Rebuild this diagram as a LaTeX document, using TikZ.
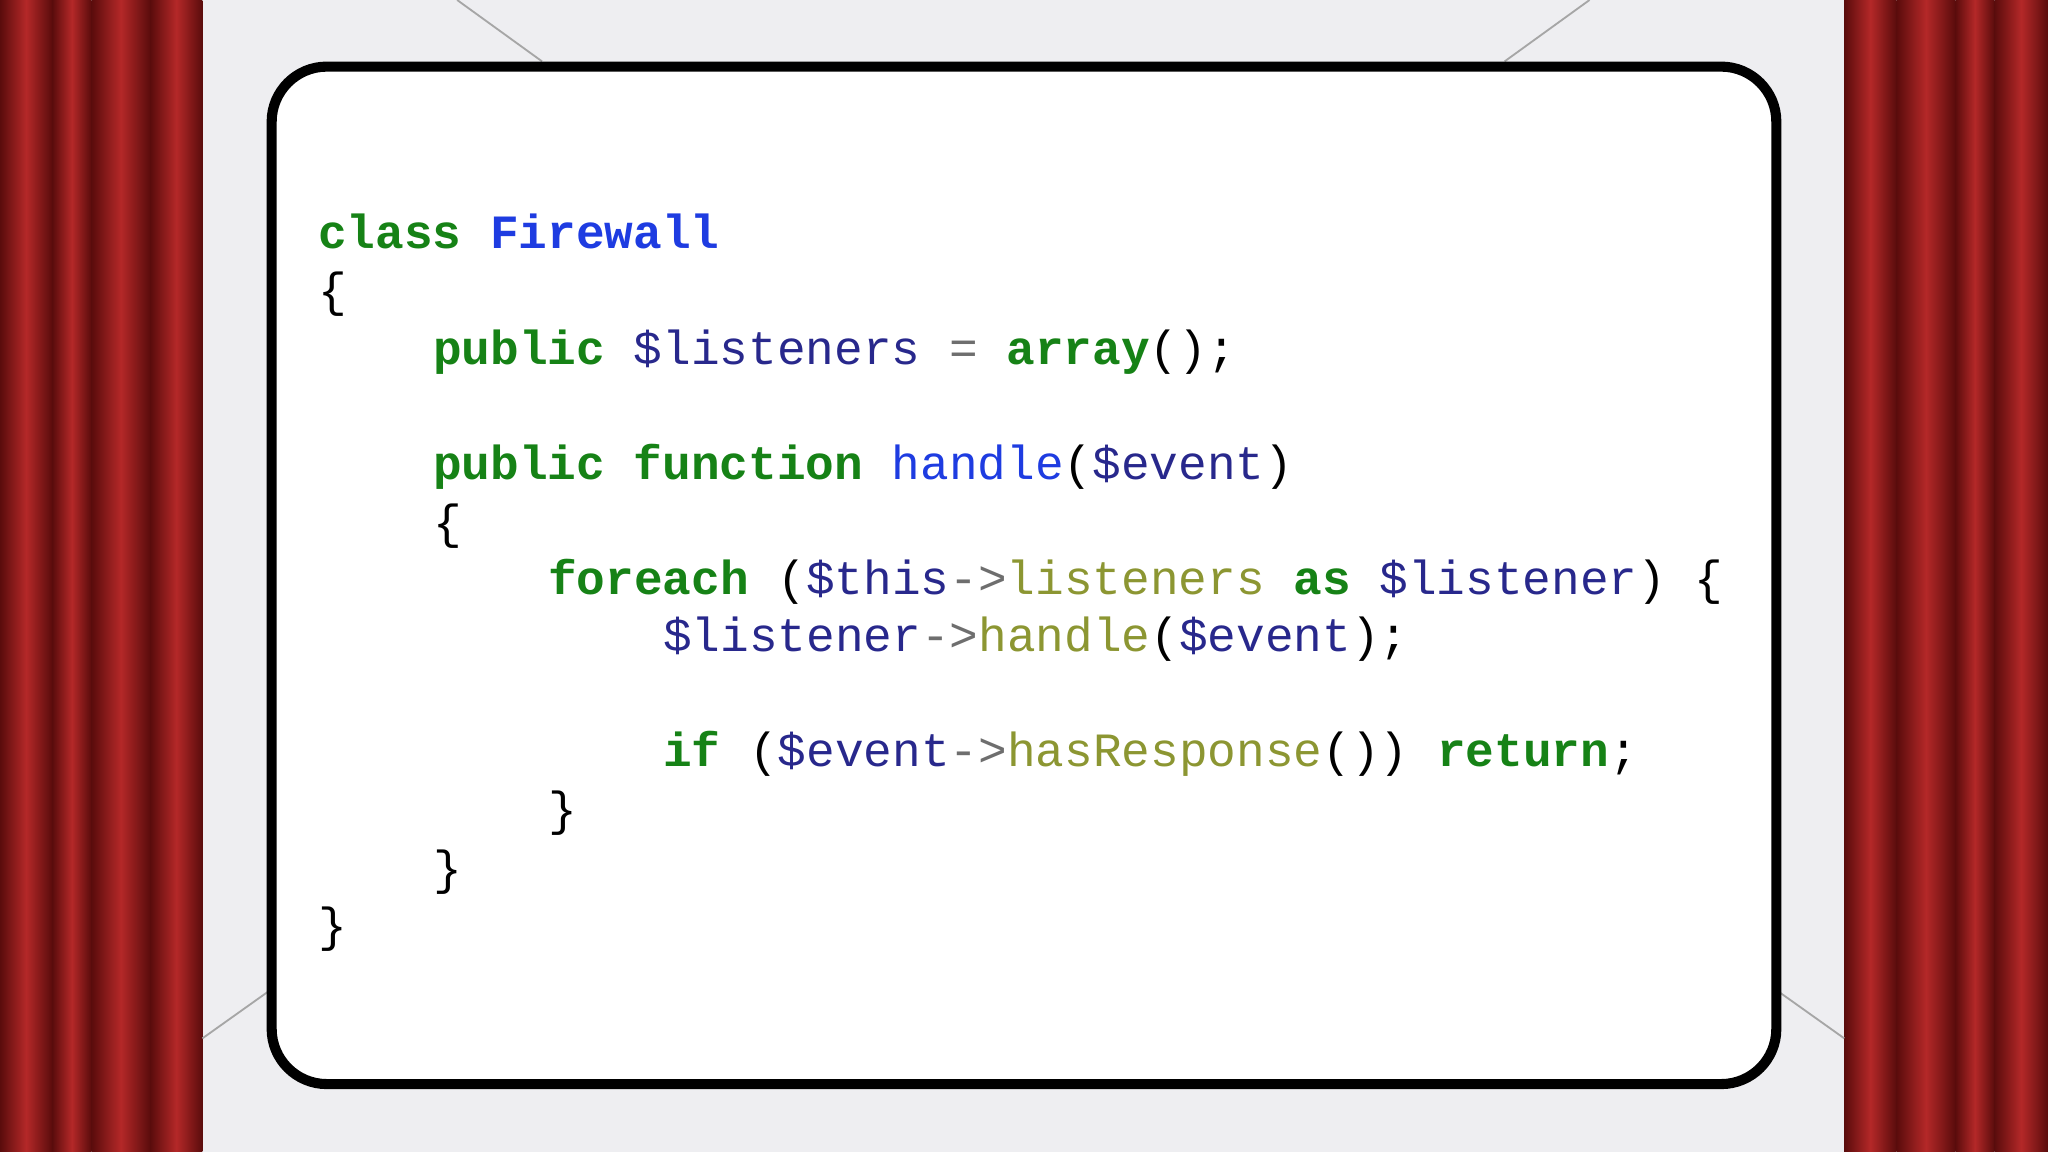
\documentclass[tikz,border=0pt]{standalone}
\usepackage{fontspec}
\newfontfamily\code{Liberation Mono}
\definecolor{kwc}{RGB}{22,130,22}
\definecolor{cnc}{RGB}{30,60,225}
\definecolor{vrc}{RGB}{40,40,140}
\definecolor{fnc}{RGB}{140,150,50}
\definecolor{arc}{RGB}{110,110,110}
\definecolor{bgc}{RGB}{238,238,241}
\definecolor{curtd}{RGB}{90,12,12}
\definecolor{curtl}{RGB}{180,40,40}
\newcommand{\kw}[1]{{\bfseries\color{kwc}#1}}
\newcommand{\cn}[1]{{\bfseries\color{cnc}#1}}
\newcommand{\vr}[1]{{\color{vrc}#1}}
\newcommand{\fn}[1]{{\color{fnc}#1}}
\newcommand{\arw}{{\color{arc}->}}
\tikzset{codeline/.style={anchor=base west,inner sep=0pt,font=\code\fontsize{10.4}{12}\selectfont}}
\begin{document}
\begin{tikzpicture}[x=0.01cm,y=-0.01cm]
\useasboundingbox (0,0) rectangle (1568,882);
\fill[bgc] (0,0) rectangle (1568,882);
% curtains
\foreach \x/\w in {0/40,40/30,70/45,115/40}{
  \shade[left color=curtd,right color=curtd,middle color=curtl] (\x,0) rectangle (\x+\w,882);}
\foreach \x/\w in {1412/40,1452/45,1497/30,1527/41}{
  \shade[left color=curtd,right color=curtd,middle color=curtl] (\x,0) rectangle (\x+\w,882);}
% corner lines
\coordinate (tl1) at (350,0); \coordinate (tl2) at (415,47);
\coordinate (tr1) at (1217,0); \coordinate (tr2) at (1152,47);
\coordinate (bl1) at (155,795); \coordinate (bl2) at (207,758);
\coordinate (br1) at (1412,795); \coordinate (br2) at (1360,758);
\draw[gray!70,line width=0.4pt] (tl1)--(tl2) (tr1)--(tr2) (bl1)--(bl2) (br1)--(br2);
% box
\draw[line width=2.2pt,fill=white,rounded corners=12] (208,51) rectangle (1360,830);
% code
\node[codeline] (l1) at (243,190) {\kw{class} \cn{Firewall}};
\node[codeline] (l2) at (243,235) {\{};
\node[codeline] (l3) at (331,279) {\kw{public} \vr{\$listeners} {\color{arc}=} \kw{array}();};
\node[codeline] (l4) at (331,367) {\kw{public} \kw{function} {\color{cnc}handle}(\vr{\$event})};
\node[codeline] (l5) at (331,412) {\{};
\node[codeline] (l6) at (419,455) {\kw{foreach} (\vr{\$this}\arw\fn{listeners} \kw{as} \vr{\$listener}) \{};
\node[codeline] (l7) at (507,499) {\vr{\$listener}\arw\fn{handle}(\vr{\$event});};
\node[codeline] (l8) at (507,587) {\kw{if} (\vr{\$event}\arw\fn{hasResponse}()) \kw{return};};
\node[codeline] (l9) at (419,632) {\}};
\node[codeline] (l10) at (331,677) {\}};
\node[codeline] (l11) at (243,721) {\}};
\end{tikzpicture}
\end{document}
